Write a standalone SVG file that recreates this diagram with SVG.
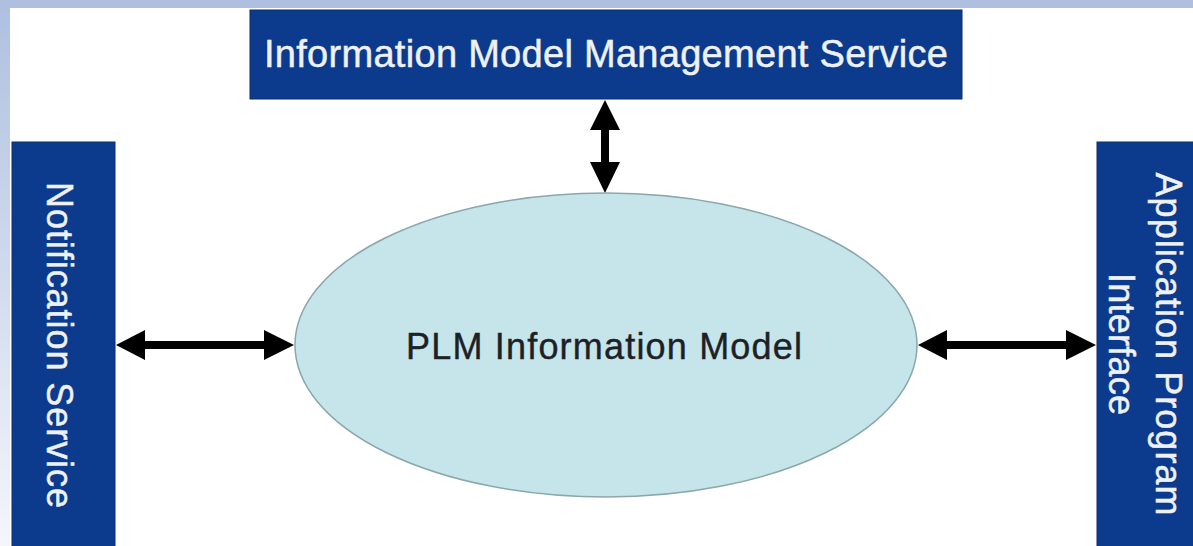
<svg xmlns="http://www.w3.org/2000/svg" width="1193" height="546" viewBox="0 0 1193 546">
<defs>
<style>
.box{fill:#0c3a8c;stroke:#0a2f72;stroke-width:1}
.wt{fill:#eef1f6;stroke:#eef1f6;stroke-width:0.5;font-family:"Liberation Sans",Arial,sans-serif}
.dk{fill:#1c2126;stroke:#1c2126;stroke-width:0.4;font-family:"Liberation Sans",Arial,sans-serif}
.conn{stroke:#000;stroke-width:8;fill:none}
</style>
<linearGradient id="lg" x1="0" y1="0" x2="0" y2="1">
<stop offset="0" stop-color="#aebfe0"/>
<stop offset="1" stop-color="#f4f6fb"/>
</linearGradient>
</defs>
<rect x="0" y="0" width="1193" height="546" fill="#ffffff"/>
<rect x="0" y="0" width="10" height="546" fill="url(#lg)"/>
<rect x="0" y="0" width="1193" height="8" fill="#aebfe0"/>
<g id="connectors">
<line class="conn" x1="605" y1="130" x2="605" y2="162"/>
<path d="M605,100 L590,130 L620,130 Z M605,193 L590,162 L620,162 Z" fill="#000"/>
<line class="conn" x1="145" y1="345" x2="264" y2="345"/>
<path d="M116,345 L145,330 L145,360 Z M294,345 L264,330 L264,360 Z" fill="#000"/>
<line class="conn" x1="947" y1="345" x2="1066" y2="345"/>
<path d="M918,345 L947,330 L947,360 Z M1096,345 L1066,330 L1066,360 Z" fill="#000"/>
</g>
<g id="node-top">
<rect class="box" x="250" y="10" width="712" height="89"/>
<text class="wt" x="606" y="67" font-size="38" text-anchor="middle" textLength="684" lengthAdjust="spacing">Information Model Management Service</text>
</g>
<g id="node-left">
<rect class="box" x="12" y="142" width="103" height="410"/>
<text class="wt" transform="translate(47,345) rotate(90)" x="0" y="0" font-size="36" text-anchor="middle" textLength="326" lengthAdjust="spacing">Notification Service</text>
</g>
<g id="node-right">
<rect class="box" x="1097" y="142" width="100" height="410"/>
<text class="wt" transform="translate(1156,344) rotate(90)" x="0" y="0" font-size="36" text-anchor="middle" textLength="343" lengthAdjust="spacing">Application Program</text>
<text class="wt" transform="translate(1109,344) rotate(90)" x="0" y="0" font-size="36" text-anchor="middle" textLength="142" lengthAdjust="spacing">Interface</text>
</g>
<g id="node-center">
<ellipse cx="606" cy="345" rx="311" ry="152" fill="#c6e5ea" stroke="#8aa7ac" stroke-width="1.5"/>
<text class="dk" x="604" y="359" font-size="36" text-anchor="middle" textLength="396" lengthAdjust="spacing">PLM Information Model</text>
</g>
</svg>
